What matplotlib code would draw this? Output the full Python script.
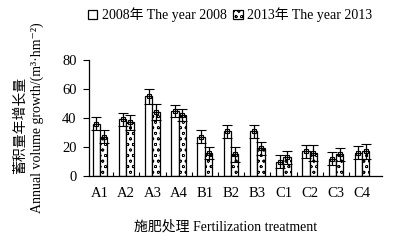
import numpy as np
import matplotlib.pyplot as plt
import matplotlib as mpl

mpl.rcParams['hatch.linewidth'] = 0.5
plt.rcParams['font.family'] = ['Liberation Serif', 'DejaVu Serif', 'Noto Sans CJK SC']

# Data
treatments = ['A1', 'A2', 'A3', 'A4', 'B1', 'B2', 'B3', 'C1', 'C2', 'C3', 'C4']
growth_2008 = [36, 39, 55, 45, 27, 31, 31, 10, 17, 12, 16]
err_2008 = [4.5, 4.5, 5, 4, 4.5, 4.5, 4.5, 4.5, 4.5, 4.5, 4.5]
growth_2013 = [27, 37, 44, 42, 16, 15, 19, 13, 16, 15, 17]
err_2013 = [4.5, 5, 5.5, 4, 4, 5, 4.5, 4.5, 5.5, 4.5, 5]

fig = plt.figure(figsize=(4.11, 2.41), dpi=100)
ax = fig.add_axes([89 / 411, 1 - 176 / 241, (382 - 89) / 411, (176 - 60) / 241])

x = np.arange(len(treatments))
w = 0.28
ax.bar(x - w / 2, growth_2008, w, color='white', edgecolor='black', linewidth=0.9,
       label='2008年 The year 2008', zorder=2)
ax.bar(x + w / 2, growth_2013, w, color='white', edgecolor='black', linewidth=0.9,
       hatch='ooo', label='2013年 The year 2013', zorder=2)
ax.errorbar(x - w / 2, growth_2008, yerr=err_2008, fmt='s', ms=3.5, mfc='none', mec='black',
            mew=0.8, ecolor='black', elinewidth=0.9, capsize=3.5, capthick=0.9, zorder=3)
ax.errorbar(x + w / 2, growth_2013, yerr=err_2013, fmt='s', ms=3.5, mfc='none', mec='black',
            mew=0.8, ecolor='black', elinewidth=0.9, capsize=3.5, capthick=0.9, zorder=3)

ax.set_xlim(-0.42, 10.76)
ax.set_ylim(0, 80)
ax.set_yticks([0, 20, 40, 60, 80])
ax.set_xticks(x)
ax.set_xticklabels(treatments)
ax.set_xticks(np.arange(len(treatments) - 1) + 0.5, minor=True)
ax.tick_params(axis='x', which='major', length=0, pad=8, labelsize=10.5)
ax.tick_params(axis='x', which='minor', direction='in', length=3, width=0.8)
ax.tick_params(axis='y', length=4, width=0.8, labelsize=10.5, pad=5)
ax.spines['top'].set_visible(False)
ax.spines['right'].set_visible(False)
for s in ('left', 'bottom'):
    ax.spines[s].set_linewidth(0.9)

fig.text(0.55, 1 - 227 / 241, '施肥处理 Fertilization treatment', ha='center', va='center',
         fontsize=10)
fig.text(20 / 411, 1 - 125 / 241, '蓄积量年增长量', ha='center', va='center',
         rotation=90, fontsize=10)
fig.text(37 / 411, 1 - 118 / 241, 'Annual volume growth/(m³·hm⁻²)', ha='center',
         va='center', rotation=90, fontsize=10)

fig.legend(loc='center', bbox_to_anchor=(230 / 411, 1 - 15 / 241), ncol=2, frameon=False,
           fontsize=10, handlelength=0.7, handleheight=0.7, handletextpad=0.3,
           columnspacing=0.5)

fig.savefig('out.png', dpi=100)
